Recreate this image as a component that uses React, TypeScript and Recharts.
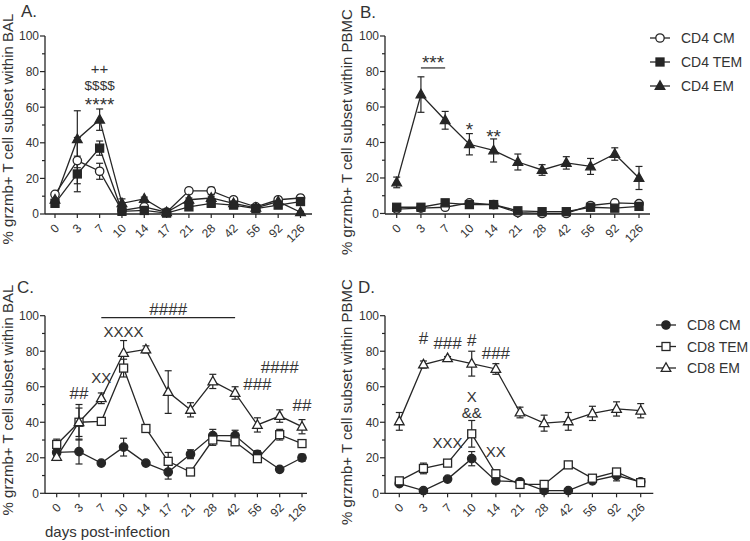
import { ErrorBar, Legend, Line, LineChart, ReferenceDot, ReferenceLine, XAxis, YAxis } from "recharts";

// days sampled in each compartment (BAL has an extra day-17 point)
const balDays = ["0", "3", "7", "10", "14", "17", "21", "28", "42", "56", "92", "126"];
const pbmcDays = ["0", "3", "7", "10", "14", "21", "28", "42", "56", "92", "126"];
const yTicks = [0, 10, 20, 30, 40, 50, 60, 70, 80, 90, 100];

// A. CD4 subsets in BAL
const cd4BalCm = [11, 30, 24, 2, 4, 1, 13, 13, 8, 4, 8, 9];
const cd4BalCmErr = [1, 13, 4.5, 1, 1, 0.5, 1.5, 2, 1, 0.5, 1, 1.5];
const cd4BalTem = [6, 22.5, 37, 1.5, 2, 0.5, 4, 6, 5, 3, 5, 7];
const cd4BalTemErr = [1, 10, 4, 1, 1, 0.5, 1, 1, 1, 0.5, 1, 1];
const cd4BalEm = [8, 42, 53, 6, 8.5, 1, 8, 9, 6, 3.5, 7, 1];
const cd4BalEmErr = [1, 16, 6, 2.5, 1, 0.5, 1, 1, 1, 0.5, 1, 0.5];

// B. CD4 subsets in PBMC
const cd4PbmcCm = [2.5, 3, 3.5, 6, 5, 0.5, 0, 0, 4.5, 6, 5.5];
const cd4PbmcCmErr = [0.5, 0.5, 0.5, 1, 1, 0.5, 0.3, 0.3, 1, 1, 1];
const cd4PbmcTem = [3.5, 3.5, 6, 5, 5, 1.5, 1, 1, 3.5, 3, 4];
const cd4PbmcTemErr = [0.5, 0.5, 1, 1, 1, 0.5, 0.5, 0.5, 1, 0.5, 1];
const cd4PbmcEm = [17.5, 67, 52.5, 39, 35.5, 29, 24.5, 28.5, 26.5, 33.5, 20];
const cd4PbmcEmErr = [3, 10, 5, 6, 6.5, 4.5, 3, 3.5, 4.5, 3.5, 6.5];

// C. CD8 subsets in BAL
const cd8BalCm = [23, 23.5, 17, 26, 17, 12, 22, 32.5, 32.5, 22, 13.5, 20];
const cd8BalCmErr = [2, 7, 1, 5, 1, 4, 2.5, 3.5, 3, 2, 1, 2];
const cd8BalTem = [27.5, 40, 40.5, 70.5, 36.5, 18, 12, 30, 29, 19.5, 33, 28];
const cd8BalTemErr = [3, 10, 2, 5, 1.5, 5, 1, 3, 2, 2, 3, 2];
const cd8BalEm = [20.5, 40, 53.5, 79, 81, 57, 47, 63, 56.5, 38.5, 43.5, 37.5];
const cd8BalEmErr = [2, 8, 3, 7, 2, 12, 4, 4, 3.5, 4, 3.5, 4];

// D. CD8 subsets in PBMC
const cd8PbmcCm = [5.5, 1.5, 8, 19.5, 7, 6.5, 1.5, 1.5, 7, 10, 6.5];
const cd8PbmcCmErr = [1, 0.5, 1, 4, 1, 1, 0.5, 0.5, 1, 3, 1];
const cd8PbmcTem = [7, 14, 17, 33.5, 11, 5, 5, 16, 8.5, 12, 6];
const cd8PbmcTemErr = [1, 3, 1.5, 7.5, 2, 1, 1, 1.5, 1, 1.5, 1];
const cd8PbmcEm = [40.5, 72.5, 76, 73, 70, 45.5, 39.5, 40.5, 45, 47.5, 46.5];
const cd8PbmcEmErr = [5, 2, 1, 7, 3, 3, 4.5, 5, 4, 4, 4];

const INK = "#262626";
const TEXT = "#333";
const FONT = "'Liberation Sans', Arial, Helvetica, sans-serif";

type MarkerKind = "openCircle" | "filledCircle" | "openSquare" | "filledSquare" | "openTriangle" | "filledTriangle";

interface SeriesDef {
  key: string;
  name: string;
  marker: MarkerKind;
}

interface Note {
  x: string;
  y: number;
  text: string;
  size?: number;
}

interface Bracket {
  from: string;
  to: string;
  y: number;
  text: string;
  offset: number;
  size: number;
}

type Row = Record<string, string | number>;

function buildRows(days: string[], cols: Record<string, number[]>) {
  return days.map((day, i) => {
    const row: Row = { day };
    for (const [key, values] of Object.entries(cols)) {
      row[key] = values[i];
    }
    return row;
  });
}

const rowsA = buildRows(balDays, {
  cm: cd4BalCm, cmErr: cd4BalCmErr, tem: cd4BalTem, temErr: cd4BalTemErr, em: cd4BalEm, emErr: cd4BalEmErr
});
const rowsB = buildRows(pbmcDays, {
  cm: cd4PbmcCm, cmErr: cd4PbmcCmErr, tem: cd4PbmcTem, temErr: cd4PbmcTemErr, em: cd4PbmcEm, emErr: cd4PbmcEmErr
});
const rowsC = buildRows(balDays, {
  cm: cd8BalCm, cmErr: cd8BalCmErr, tem: cd8BalTem, temErr: cd8BalTemErr, em: cd8BalEm, emErr: cd8BalEmErr
});
const rowsD = buildRows(pbmcDays, {
  cm: cd8PbmcCm, cmErr: cd8PbmcCmErr, tem: cd8PbmcTem, temErr: cd8PbmcTemErr, em: cd8PbmcEm, emErr: cd8PbmcEmErr
});

const cd4Series: SeriesDef[] = [
  { key: "cm", name: "CD4 CM", marker: "openCircle" },
  { key: "tem", name: "CD4 TEM", marker: "filledSquare" },
  { key: "em", name: "CD4 EM", marker: "filledTriangle" }
];
const cd8Series: SeriesDef[] = [
  { key: "cm", name: "CD8 CM", marker: "filledCircle" },
  { key: "tem", name: "CD8 TEM", marker: "openSquare" },
  { key: "em", name: "CD8 EM", marker: "openTriangle" }
];

const notesA: Note[] = [
  { x: "7", y: 81.5, text: "++" },
  { x: "7", y: 72.5, text: "$$$$", size: 13.5 },
  { x: "7", y: 61.5, text: "****", size: 19 }
];
const notesB: Note[] = [
  { x: "10", y: 47.5, text: "*", size: 19 },
  { x: "14", y: 43.6, text: "**", size: 19 }
];
const bracketsB: Bracket[] = [{ from: "3", to: "7", y: 82, text: "***", offset: -1, size: 19 }];
const notesC: Note[] = [
  { x: "10", y: 90.8, text: "XXXX" },
  { x: "7", y: 65, text: "XX" },
  { x: "3", y: 56.5, text: "##", size: 17 },
  { x: "56", y: 61.5, text: "###", size: 17 },
  { x: "92", y: 71, text: "####", size: 17 },
  { x: "126", y: 49.7, text: "##", size: 17 }
];
const bracketsC: Bracket[] = [{ from: "7", to: "42", y: 98.9, text: "####", offset: 3, size: 17 }];
const notesD: Note[] = [
  { x: "3", y: 87.4, text: "#", size: 17 },
  { x: "7", y: 84.6, text: "###", size: 17 },
  { x: "10", y: 86.3, text: "#", size: 17 },
  { x: "14", y: 79, text: "###", size: 17 },
  { x: "10", y: 54.2, text: "X" },
  { x: "10", y: 45.2, text: "&&" },
  { x: "7", y: 28.3, text: "XXX" },
  { x: "14", y: 23.3, text: "XX" }
];

function Marker({ kind, cx, cy }: { kind: MarkerKind; cx: number; cy: number }) {
  const filled = kind.startsWith("filled");
  const style = { fill: filled ? INK : "#fff", stroke: INK, strokeWidth: 1.3 };
  if (kind.endsWith("Circle")) {
    return <circle cx={cx} cy={cy} r={4.2} {...style} />;
  }
  if (kind.endsWith("Square")) {
    return <rect x={cx - 4} y={cy - 4} width={8} height={8} {...style} />;
  }
  return <polygon points={`${cx},${cy - 5.2} ${cx + 4.8},${cy + 3.4} ${cx - 4.8},${cy + 3.4}`} {...style} />;
}

function DayTick({ x, y, payload }: any) {
  return (
    <text
      transform={`translate(${x + 5},${y + 9}) rotate(-45)`}
      textAnchor="end"
      fontSize={12}
      fontFamily={FONT}
      fill={TEXT}
    >
      {payload.value}
    </text>
  );
}

function PercentTick({ x, y, payload }: any) {
  const major = payload.value % 20 === 0;
  const axisX = x + 6;
  return (
    <g>
      <line x1={axisX} x2={axisX - (major ? 5 : 3)} y1={y} y2={y} stroke={INK} strokeWidth={1.2} />
      {major && (
        <text x={x} y={y} dy="0.36em" textAnchor="end" fontSize={12} fontFamily={FONT} fill={TEXT}>
          {payload.value}
        </text>
      )}
    </g>
  );
}

function LegendBox({ series, rowGap }: { series: SeriesDef[]; rowGap: number }) {
  return (
    <svg width={110} height={rowGap * 3 + 6} style={{ display: "block" }}>
      {series.map((s, i) => {
        const cy = 12 + i * rowGap;
        return (
          <g key={s.key}>
            <line x1={0} x2={20} y1={cy} y2={cy} stroke={INK} strokeWidth={1.3} />
            <Marker kind={s.marker} cx={10} cy={cy} />
            <text x={31} y={cy} dy="0.36em" fontSize={14} fontFamily={FONT} fill={TEXT}>
              {s.name}
            </text>
          </g>
        );
      })}
    </svg>
  );
}

interface PanelProps {
  rows: Row[];
  series: SeriesDef[];
  left: number;
  top: number;
  width: number;
  margin: { top: number; right: number; bottom: number; left: number };
  padding: { left: number; right: number };
  notes: Note[];
  brackets?: Bracket[];
  legend?: { left: number; top: number; rowGap: number };
}

function Panel({ rows, series, left, top, width, margin, padding, notes, brackets = [], legend }: PanelProps) {
  return (
    <div style={{ position: "absolute", left, top }}>
      <LineChart width={width} height={270} data={rows} margin={margin}>
        <XAxis
          dataKey="day"
          type="category"
          interval={0}
          padding={padding}
          height={30}
          tickSize={4}
          tickMargin={2}
          tick={<DayTick />}
          axisLine={{ stroke: INK, strokeWidth: 1.3 }}
          tickLine={{ stroke: INK, strokeWidth: 1.2 }}
        />
        <YAxis
          domain={[0, 100]}
          ticks={yTicks}
          interval={0}
          width={30}
          tickSize={5}
          tickMargin={1}
          tickLine={false}
          tick={<PercentTick />}
          axisLine={{ stroke: INK, strokeWidth: 1.3 }}
        />
        {series.map((s) => (
          <Line
            key={s.key}
            dataKey={s.key}
            name={s.name}
            stroke={INK}
            strokeWidth={1.3}
            type="linear"
            isAnimationActive={false}
            dot={(p: any) => <Marker key={`${s.key}-${p.index}`} kind={s.marker} cx={p.cx} cy={p.cy} />}
            activeDot={false}
          >
            <ErrorBar dataKey={`${s.key}Err`} direction="y" width={3.5} stroke={INK} strokeWidth={1.2} />
          </Line>
        ))}
        {brackets.map((b) => (
          <ReferenceLine
            key={b.text + b.from}
            segment={[{ x: b.from, y: b.y }, { x: b.to, y: b.y }]}
            stroke={INK}
            strokeWidth={1.2}
            ifOverflow="visible"
            label={{ value: b.text, position: "top", offset: b.offset, fontSize: b.size, fill: TEXT, fontFamily: FONT }}
          />
        ))}
        {notes.map((n) => (
          <ReferenceDot
            key={n.text + n.x + n.y}
            x={n.x}
            y={n.y}
            r={0}
            fill="none"
            stroke="none"
            ifOverflow="visible"
            label={{ value: n.text, position: "center", fontSize: n.size ?? 15, fill: TEXT, fontFamily: FONT }}
          />
        ))}
        {legend && (
          <Legend
            layout="vertical"
            align="center"
            verticalAlign="middle"
            wrapperStyle={{ left: legend.left, top: legend.top, width: 110 }}
            content={() => <LegendBox series={series} rowGap={legend.rowGap} />}
          />
        )}
      </LineChart>
    </div>
  );
}

export default function App() {
  return (
    <div style={{ position: "absolute", left: 0, top: 0, width: 750, height: 541, background: "#fff", fontFamily: FONT }}>
      <Panel
        rows={rowsA}
        series={cd4Series}
        left={0}
        top={0}
        width={330}
        margin={{ top: 36, right: 18, bottom: 26, left: 15 }}
        padding={{ left: 10, right: 11.5 }}
        notes={notesA}
      />
      <Panel
        rows={rowsB}
        series={cd4Series}
        left={340}
        top={0}
        width={410}
        margin={{ top: 36, right: 100, bottom: 26, left: 15 }}
        padding={{ left: 11.7, right: 11 }}
        notes={notesB}
        brackets={bracketsB}
        legend={{ left: 310, top: 26, rowGap: 24 }}
      />
      <Panel
        rows={rowsC}
        series={cd8Series}
        left={0}
        top={270}
        width={330}
        margin={{ top: 45.7, right: 23, bottom: 16.7, left: 15 }}
        padding={{ left: 11.7, right: 5 }}
        notes={notesC}
        brackets={bracketsC}
      />
      <Panel
        rows={rowsD}
        series={cd8Series}
        left={340}
        top={270}
        width={410}
        margin={{ top: 45.7, right: 96.7, bottom: 16.7, left: 15 }}
        padding={{ left: 14.3, right: 12.6 }}
        notes={notesD}
        legend={{ left: 316, top: 43, rowGap: 21.5 }}
      />
      <svg
        width={750}
        height={541}
        style={{ position: "absolute", left: 0, top: 0, pointerEvents: "none" }}
        fontFamily={FONT}
        fill={TEXT}
      >
        <text x={21} y={17} fontSize={17}>A.</text>
        <text x={360} y={18} fontSize={17}>B.</text>
        <text x={17} y={293} fontSize={17}>C.</text>
        <text x={358} y={293} fontSize={17}>D.</text>
        <text transform="translate(13,129) rotate(-90)" textAnchor="middle" fontSize={15}>
          % grzmb+ T cell subset within BAL
        </text>
        <text transform="translate(352,132) rotate(-90)" textAnchor="middle" fontSize={15}>
          % grzmb+ T cell subset within PBMC
        </text>
        <text transform="translate(13,400) rotate(-90)" textAnchor="middle" fontSize={15}>
          % grzmb+ T cell subset within BAL
        </text>
        <text transform="translate(352,402) rotate(-90)" textAnchor="middle" fontSize={15}>
          % grzmb+ T cell subset within PBMC
        </text>
        <text x={45} y={537} fontSize={15}>days post-infection</text>
      </svg>
    </div>
  );
}
